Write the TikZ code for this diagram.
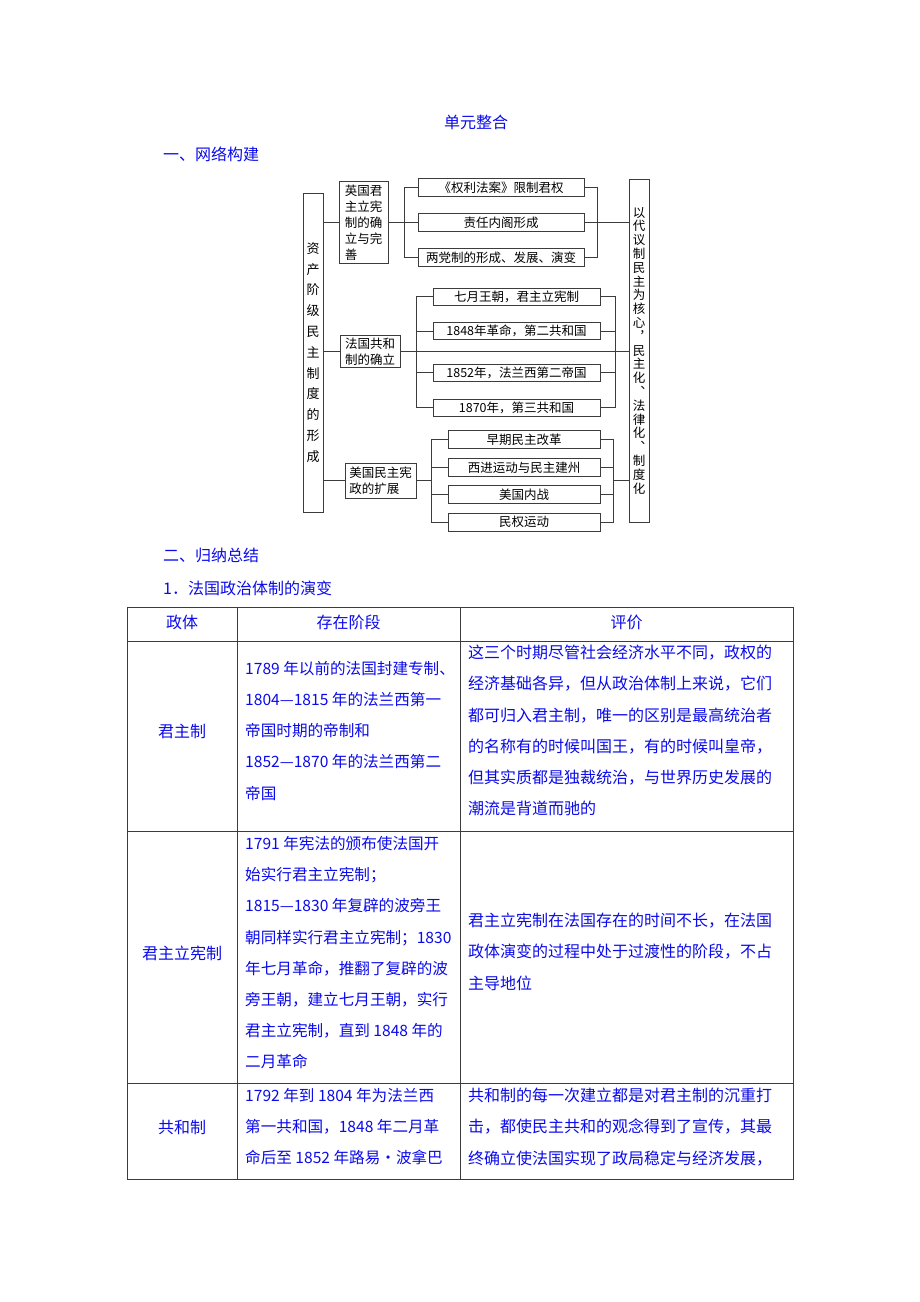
\documentclass[tikz,border=0pt]{standalone}
\usepackage{fontspec}
\setmainfont{Noto Sans CJK SC}
\usepackage{tikz}
\definecolor{ink}{RGB}{10,10,235}
\definecolor{rule}{RGB}{60,60,60}
\newcommand{\boxfont}{\fontsize{12.5}{16}\selectfont}
\newcommand{\tabfont}{\fontsize{16}{31.2}\selectfont}
\newcommand{\narrowfont}{\fontsize{15.6}{31.2}\selectfont}
\tikzstyle{box}=[draw=rule, line width=0.9pt, inner sep=0pt, font=\boxfont]
\tikzstyle{leaf}=[box, minimum height=18pt]
\tikzstyle{topic}=[box, align=left]
\tikzstyle{stack}=[box, align=center]
\tikzstyle{link}=[draw=rule, line width=0.9pt]
\tikzstyle{heading}=[inner sep=0pt, font=\tabfont, text=ink]
\tikzstyle{tabtext}=[heading, anchor=north west, align=left]
\tikzstyle{stagetext}=[tabtext, font=\narrowfont]

\begin{document}
\begin{tikzpicture}[x=1pt, y=-1pt]
        \useasboundingbox (0,0) rectangle (920,1302);
        \node[heading] (title) at (476,122) {单元整合};
        \node[heading, anchor=west] (net) at (163,154) {一、网络构建};

        \node[stack, minimum width=20pt, minimum height=319pt, font=\fontsize{13}{20.8}\selectfont] (Root) at (313,352.5) {资\\产\\阶\\级\\民\\主\\制\\度\\的\\形\\成};
        \node[stack, minimum width=20pt, minimum height=343pt, font=\fontsize{12.5}{13.8}\selectfont] (Goal) at (639,350.5) {以\\代\\议\\制\\民\\主\\为\\核\\心\\︐\\民\\主\\化\\︑\\法\\律\\化\\︑\\制\\度\\化};

        \node[topic, minimum width=49pt, minimum height=82pt] (UK) at (363.5,222.5) {英国君\\主立宪\\制的确\\立与完\\善};
        \node[topic, minimum width=60pt, minimum height=32pt] (FR) at (370,351.5) {法国共和\\制的确立};
        \node[topic, minimum width=71pt, minimum height=35pt] (US) at (380.5,480.5) {美国民主宪\\政的扩展};

        \node[leaf, minimum width=166pt] (UK1) at (501,187.5) {《权利法案》限制君权};
        \node[leaf, minimum width=166pt] (UK2) at (501,222.5) {责任内阁形成};
        \node[leaf, minimum width=166pt] (UK3) at (501,257.5) {两党制的形成、发展、演变};

        \node[leaf, minimum width=167pt, minimum height=17pt] (FR1) at (516.5,296.5) {七月王朝，君主立宪制};
        \node[leaf, minimum width=167pt, minimum height=17pt] (FR2) at (516.5,331) {1848年革命，第二共和国};
        \node[leaf, minimum width=167pt, minimum height=17pt] (FR3) at (516.5,372.5) {1852年，法兰西第二帝国};
        \node[leaf, minimum width=167pt, minimum height=17pt] (FR4) at (516.5,407.5) {1870年，第三共和国};

        \node[leaf, minimum width=152pt] (US1) at (524,439.5) {早期民主改革};
        \node[leaf, minimum width=152pt] (US2) at (524,467.5) {西进运动与民主建州};
        \node[leaf, minimum width=152pt] (US3) at (524,494.5) {美国内战};
        \node[leaf, minimum width=152pt] (US4) at (524,522) {民权运动};

        \draw[link] (UK.west -| Root.east) -- (UK.west);
        \draw[link] (FR.west -| Root.east) -- (FR.west);
        \draw[link] (US.west -| Root.east) -- (US.west);

        \draw[link] (UK.east) -- (UK2.west);
        \draw[link] (UK1.west) -- +(-13,0) |- (UK3.west);
        \draw[link] (UK1.east) -- +(13,0) |- (UK3.east);
        \draw[link] (UK2.east) -- (UK2.east -| Goal.west);

        \draw[link] (FR1.west) -- +(-16,0) |- (FR4.west);
        \draw[link] (FR2.west) -- +(-16,0);
        \draw[link] (FR3.west) -- +(-16,0);
        \draw[link] (FR1.east) -- +(15,0) |- (FR4.east);
        \draw[link] (FR2.east) -- +(15,0);
        \draw[link] (FR3.east) -- +(15,0);
        \draw[link] (FR.east) -- (FR.east -| Goal.west);

        \draw[link] (US.east) -- +(16,0);
        \draw[link] (US1.west) -- +(-16,0) |- (US4.west);
        \draw[link] (US2.west) -- +(-16,0);
        \draw[link] (US3.west) -- +(-16,0);
        \draw[link] (US1.east) -- +(13,0) |- (US4.east);
        \draw[link] (US2.east) -- +(13,0);
        \draw[link] (US3.east) -- +(13,0);
        \draw[link] (US.east -| US1.east) ++(13,0) -- (US.east -| Goal.west);

        \node[heading, anchor=west] (sum) at (163,555) {二、归纳总结};
        \node[heading, anchor=west] (sub) at (163,588) {1．法国政治体制的演变};

        \draw[link] (127,607) rectangle (793,1179);
        \foreach \y in {641,831,1083}
            \draw[link] (127,\y) -- (793,\y);
        \foreach \x in {237,460}
            \draw[link] (\x,607) -- (\x,1179);

        \node[heading] (hA) at (182,622) {政体};
        \node[heading] (hB) at (348.5,622) {存在阶段};
        \node[heading] (hC) at (626.5,622) {评价};

        \node[heading] (r1) at (182,731) {君主制};
        \node[heading] (r2) at (182,953) {君主立宪制};
        \node[heading] (r3) at (182,1127) {共和制};

        \node[stagetext] (r1b) at (245,661) {1789 年以前的法国封建专制、\\1804—1815 年的法兰西第一\\帝国时期的帝制和\\1852—1870 年的法兰西第二\\帝国};
        \node[tabtext] (r1c) at (468,645) {这三个时期尽管社会经济水平不同，政权的\\经济基础各异，但从政治体制上来说，它们\\都可归入君主制，唯一的区别是最高统治者\\的名称有的时候叫国王，有的时候叫皇帝，\\但其实质都是独裁统治，与世界历史发展的\\潮流是背道而驰的};

        \node[stagetext] (r2b) at (245,836) {1791 年宪法的颁布使法国开\\始实行君主立宪制；\\1815—1830 年复辟的波旁王\\朝同样实行君主立宪制；1830\\年七月革命，推翻了复辟的波\\旁王朝，建立七月王朝，实行\\君主立宪制，直到 1848 年的\\二月革命};
        \node[tabtext] (r2c) at (468,913) {君主立宪制在法国存在的时间不长，在法国\\政体演变的过程中处于过渡性的阶段，不占\\主导地位};

        \node[stagetext] (r3b) at (245,1088) {1792 年到 1804 年为法兰西\\第一共和国，1848 年二月革\\命后至 1852 年路易·波拿巴};
        \node[tabtext] (r3c) at (468,1088) {共和制的每一次建立都是对君主制的沉重打\\击，都使民主共和的观念得到了宣传，其最\\终确立使法国实现了政局稳定与经济发展，};
    \end{tikzpicture}
\end{document}
